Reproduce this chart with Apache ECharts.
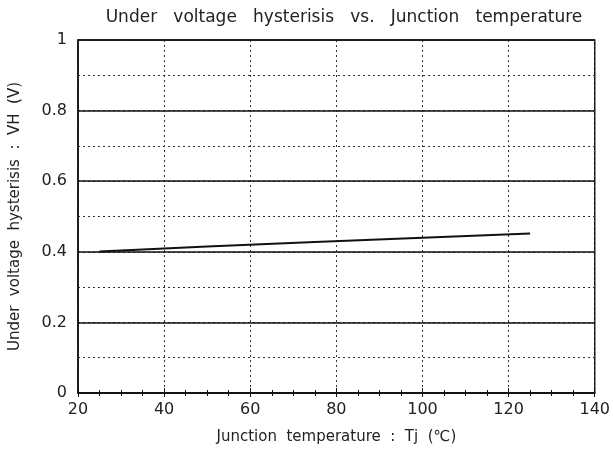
<!DOCTYPE html>
<html>
<head>
<meta charset="utf-8">
<script src="https://cdn.jsdelivr.net/npm/echarts@6/dist/echarts.min.js"></script>
<style>html,body{margin:0;padding:0;background:#fff;}#c{width:613px;height:450px;}</style>
</head>
<body>
<div id="c"></div>
<script>
var temps = [25, 50, 75, 100, 125];
var hysteresis = [0.401, 0.415, 0.428, 0.440, 0.452];
var titleText = 'Under   voltage   hysterisis   vs.   Junction   temperature';
var xName = 'Junction  temperature  :  Tj  (\u2103)';
var yName = 'Under  voltage  hysterisis  :  VH  (V)';

var font = '"DejaVu Sans", sans-serif';
var chart = echarts.init(document.getElementById('c'));
chart.setOption({
  animation: false,
  backgroundColor: '#fff',
  title: {
    text: titleText, left: 339, top: 4, textAlign: 'center',
    textStyle: { fontFamily: font, fontSize: 17, fontWeight: 'normal', color: '#222' }
  },
  grid: { left: 78, right: 11, top: 40, bottom: 57, show: true, borderColor: '#111', borderWidth: 1.5, backgroundColor: 'transparent' },
  xAxis: [{
    type: 'value', min: 20, max: 140, interval: 20,
    name: xName, nameLocation: 'middle', nameGap: 37,
    nameTextStyle: { fontFamily: font, fontSize: 15, color: '#222' },
    axisLine: { show: true, lineStyle: { color: '#111', width: 1.5 } },
    axisTick: { show: true, inside: true, length: 5, lineStyle: { color: '#111' } },
    minorTick: { show: true, splitNumber: 4, length: 3, lineStyle: { color: '#111' } },
    axisLabel: { fontFamily: font, fontSize: 16, color: '#222', margin: 9 },
    splitLine: { show: true, lineStyle: { color: '#333', type: [2, 3], width: 1 } }
  }, {
    type: 'value', min: 20, max: 140, interval: 20, position: 'top',
    axisLine: { show: false },
    axisTick: { show: true, inside: true, length: 4, lineStyle: { color: '#111' } },
    minorTick: { show: true, splitNumber: 4, length: 3, lineStyle: { color: '#111' } },
    axisLabel: { show: false }, splitLine: { show: false }
  }],
  yAxis: [{
    type: 'value', min: 0, max: 1, interval: 0.2,
    name: yName, nameLocation: 'middle', nameGap: 55, nameRotate: 90,
    nameTextStyle: { fontFamily: font, fontSize: 15, color: '#222' },
    axisLine: { show: true, lineStyle: { color: '#111', width: 1.5 } },
    axisTick: { show: false },
    axisLabel: { fontFamily: font, fontSize: 16, color: '#222', margin: 11,
      formatter: function (v) { return String(Math.round(v * 10) / 10); } },
    splitLine: { show: true, lineStyle: { color: '#111', width: 1.5 } },
    z: 3
  }, {
    type: 'value', min: 0, max: 1, interval: 0.1, position: 'left',
    axisLine: { show: false }, axisTick: { show: false }, axisLabel: { show: false },
    splitLine: { show: true, lineStyle: { color: '#333', type: [2, 3], width: 1 } }
  }],
  series: [{
    type: 'line', xAxisIndex: 0, yAxisIndex: 0,
    data: temps.map(function (t, i) { return [t, hysteresis[i]]; }),
    showSymbol: false, symbol: 'none',
    lineStyle: { color: '#111', width: 2 },
    z: 5
  }]
});
</script>
</body>
</html>
